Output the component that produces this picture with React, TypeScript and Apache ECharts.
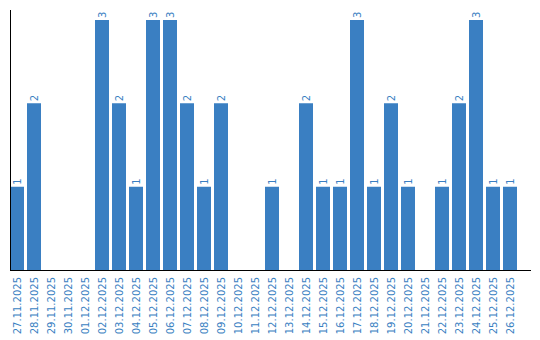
import React, { useEffect, useRef } from "react";
import * as echarts from "echarts";

const categories = [
  "27.11.2025", "28.11.2025", "29.11.2025", "30.11.2025", "01.12.2025",
  "02.12.2025", "03.12.2025", "04.12.2025", "05.12.2025", "06.12.2025",
  "07.12.2025", "08.12.2025", "09.12.2025", "10.12.2025", "11.12.2025",
  "12.12.2025", "13.12.2025", "14.12.2025", "15.12.2025", "16.12.2025",
  "17.12.2025", "18.12.2025", "19.12.2025", "20.12.2025", "21.12.2025",
  "22.12.2025", "23.12.2025", "24.12.2025", "25.12.2025", "26.12.2025",
];

const counts = [
  1, 2, 0, 0, 0,
  3, 2, 1, 3, 3,
  2, 1, 2, 0, 0,
  1, 0, 2, 1, 1,
  3, 1, 2, 1, 0,
  1, 2, 3, 1, 1,
];

const BLUE = "#3a7fc2";
const FONT = "DejaVu Sans";

export default function App() {
  const ref = useRef<HTMLDivElement>(null);

  useEffect(() => {
    if (!ref.current) return;
    const chart = echarts.init(ref.current, null, { renderer: "svg" });
    chart.setOption({
      animation: false,
      backgroundColor: "#ffffff",
      grid: { left: 8.5, top: 10, width: 510, height: 260, containLabel: false },
      xAxis: {
        type: "category",
        data: categories,
        axisLine: { show: false },
        axisTick: { show: false },
        axisLabel: {
          rotate: 90,
          interval: 0,
          margin: 7,
          color: BLUE,
          fontFamily: FONT,
          fontSize: 10,
        },
      },
      yAxis: {
        type: "value",
        min: 0,
        max: 3.12,
        axisLine: { show: false },
        axisTick: { show: false },
        axisLabel: { show: false },
        splitLine: { show: false },
      },
      series: [
        {
          type: "bar",
          data: counts.map((v) => (v === 0 ? null : v)),
          barWidth: 14,
          itemStyle: { color: BLUE },
          label: {
            show: true,
            position: "top",
            rotate: 90,
            align: "left",
            verticalAlign: "middle",
            distance: 2,
            color: BLUE,
            fontFamily: FONT,
            fontSize: 10,
          },
        },
      ],
      graphic: [
        {
          type: "line",
          shape: { x1: 10.5, y1: 10, x2: 10.5, y2: 270.5 },
          style: { stroke: "#000000", lineWidth: 1 },
          z: 100,
        },
        {
          type: "line",
          shape: { x1: 10, y1: 270.5, x2: 531, y2: 270.5 },
          style: { stroke: "#000000", lineWidth: 1 },
          z: 100,
        },
      ],
    });
    return () => chart.dispose();
  }, []);

  return (
    <div
      ref={ref}
      style={{ position: "fixed", left: 0, top: 0, width: 540, height: 340 }}
    />
  );
}
